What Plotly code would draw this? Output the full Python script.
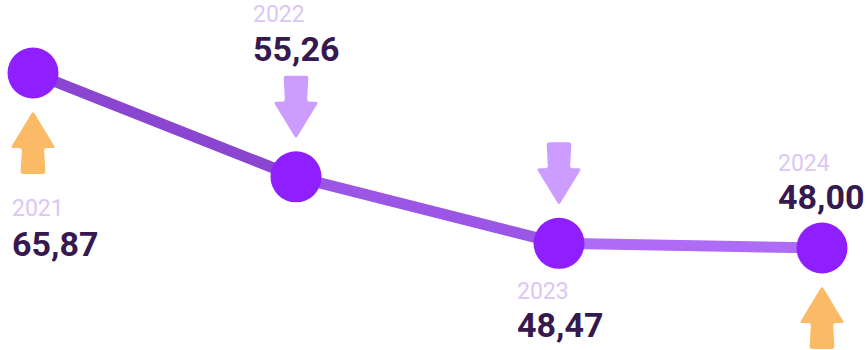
import plotly.graph_objects as go

# Data
years = [2021, 2022, 2023, 2024]
values = [65.87, 55.26, 48.47, 48.00]
trend = ["up", "down", "down", "up"]

# Styling
MARKER_COLOR = "#8F1FFF"
SEGMENT_COLORS = ["#8B46D1", "#9B56E5", "#AE6CF6"]
ARROW_COLORS = {"up": "#FBBA65", "down": "#CC9DFF"}
YEAR_COLOR = "#DCC6F4"
VALUE_COLOR = "#35194F"
FONT = "Roboto"
YEAR_SIZE = 23
VALUE_SIZE = 34

# label block placement relative to each marker centre, screen pixels
label_dx = [-21, -43, -42, -44]
value_baseline_dy = [183, -116, 93, -39]   # down = positive
line_gap = [40, 39, 38, 38]                # year baseline -> value baseline

ARROW_GAP = 38  # distance between marker centre and arrow tip
VALUE_DESCENT = 0.244 * VALUE_SIZE


def rounded_path(pts, r=3.0):
    """Closed SVG path through pts with softly rounded corners."""
    n = len(pts)
    out = []

    def toward(ax, ay, bx, by, d):
        dx, dy = bx - ax, by - ay
        length = (dx * dx + dy * dy) ** 0.5
        d = min(d, length / 2)
        return ax + dx / length * d, ay + dy / length * d

    for i in range(n):
        px, py = pts[i - 1]
        cx, cy = pts[i]
        nx, ny = pts[(i + 1) % n]
        sx, sy = toward(cx, cy, px, py, r)
        ex, ey = toward(cx, cy, nx, ny, r)
        out.append(("L" if out else "M") + f"{sx:.2f},{sy:.2f}")
        out.append(f"Q{cx:.2f},{cy:.2f} {ex:.2f},{ey:.2f}")
    return " ".join(out) + " Z"


def arrow_path(direction):
    # pixel coordinates relative to the anchor point, y pointing up
    s = 1 if direction == "down" else -1
    tip = ARROW_GAP
    base = ARROW_GAP + 37
    end = ARROW_GAP + 63
    pts = [
        (0, s * tip),
        (22.5, s * base),
        (11, s * base),
        (12.5, s * end),
        (-12.5, s * end),
        (-11, s * base),
        (-22.5, s * base),
    ]
    return rounded_path(pts, 3.0)


fig = go.Figure()

# connecting line, one segment per year-to-year step
for i in range(len(years) - 1):
    fig.add_trace(go.Scatter(
        x=years[i:i + 2], y=values[i:i + 2], mode="lines",
        line=dict(color=SEGMENT_COLORS[i], width=11),
        hoverinfo="skip", showlegend=False, cliponaxis=False,
    ))

fig.add_trace(go.Scatter(
    x=years, y=values, mode="markers",
    marker=dict(size=51, color=MARKER_COLOR, line=dict(width=0)),
    showlegend=False, cliponaxis=False,
))

for i, (yr, v, t) in enumerate(zip(years, values, trend)):
    fig.add_shape(
        type="path", xref="x", yref="y",
        xsizemode="pixel", ysizemode="pixel",
        xanchor=yr, yanchor=v,
        path=arrow_path(t),
        fillcolor=ARROW_COLORS[t], line=dict(width=0),
        layer="above",
    )
    label = (
        f"<span style='font-size:{YEAR_SIZE}px;color:{YEAR_COLOR}'>{yr}</span>"
        f"<br><span style='font-size:{VALUE_SIZE}px;color:{VALUE_COLOR}'>"
        f"<b>{v:.2f}</b></span>".replace(".", ",")
    )
    fig.add_annotation(
        x=yr, y=v, xref="x", yref="y", text=label, showarrow=False,
        xanchor="left", yanchor="bottom", align="left",
        xshift=label_dx[i],
        yshift=-(value_baseline_dy[i] + VALUE_DESCENT),
        font=dict(family=FONT, size=line_gap[i] / 1.3, color=VALUE_COLOR),
        borderpad=0, borderwidth=0,
    )

fig.update_xaxes(visible=False, range=[2020.8745, 2024.1673], fixedrange=True)
fig.update_yaxes(visible=False, range=[37.58, 73.32], fixedrange=True)
fig.update_layout(
    width=866, height=350,
    margin=dict(l=0, r=0, t=0, b=0),
    paper_bgcolor="white", plot_bgcolor="white",
    showlegend=False,
)

fig.write_html("out.html", config={"displayModeBar": False})
